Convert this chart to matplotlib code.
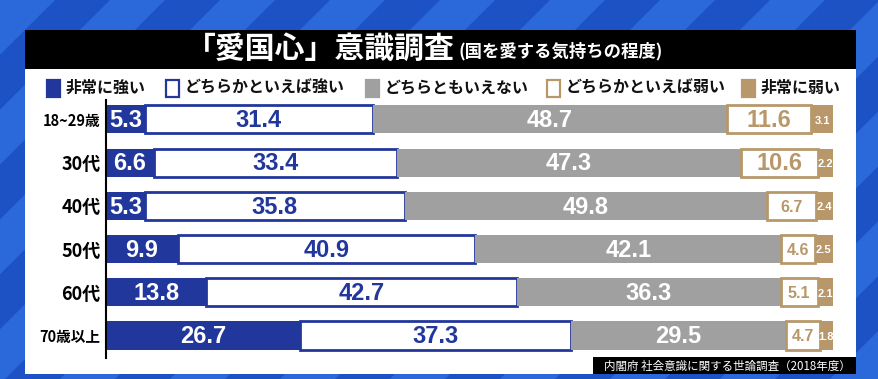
import numpy as np
import matplotlib.pyplot as plt
from matplotlib.patches import Rectangle, Polygon

plt.rcParams['font.family'] = ['Noto Sans CJK JP', 'DejaVu Sans']

# data
categories = ['18~29歳', '30代', '40代', '50代', '60代', '70歳以上']
series_names = ['非常に強い', 'どちらかといえば強い', 'どちらともいえない',
                'どちらかといえば弱い', '非常に弱い']
very_strong = [5.3, 6.6, 5.3, 9.9, 13.8, 26.7]
somewhat_strong = [31.4, 33.4, 35.8, 40.9, 42.7, 37.3]
neither = [48.7, 47.3, 49.8, 42.1, 36.3, 29.5]
somewhat_weak = [11.6, 10.6, 6.7, 4.6, 5.1, 4.7]
very_weak = [3.1, 2.2, 2.4, 2.5, 2.1, 1.8]

BLUE = '#22379c'
GRAY = '#a0a0a0'
TAN = '#b8986a'
W, H = 879, 379
NUM_FONT = ['Liberation Sans', 'DejaVu Sans']

fig = plt.figure(figsize=(W / 100, H / 100), dpi=100)
fig.patch.set_facecolor('#1d52c4')

# diagonal stripes in the background
for i in range(-4, 14):
    x0 = i * 110
    fig.patches.append(Polygon([((x0) / W, 1), ((x0 + 55) / W, 1),
                                ((x0 + 55 - 380) / W, 0), ((x0 - 380) / W, 0)],
                               closed=True, transform=fig.transFigure,
                               facecolor='#2b68da', edgecolor='none', zorder=0))

def px_rect(x0, y0, x1, y1, color, z=1):
    fig.patches.append(Rectangle((x0 / W, 1 - y1 / H), (x1 - x0) / W, (y1 - y0) / H,
                                 transform=fig.transFigure, facecolor=color,
                                 edgecolor='none', zorder=z))

# white panel and black title bar
px_rect(25, 30, 856, 374, 'white', 1)
px_rect(25, 30, 856, 69, 'black', 2)
fig.text(455 / W, 1 - 49 / H, '「愛国心」意識調査', color='white', fontsize=21.5,
         fontweight='bold', ha='right', va='center', zorder=3)
fig.text(458 / W, 1 - 51 / H, '(国を愛する気持ちの程度)', color='white', fontsize=12.5,
         fontweight='bold', ha='left', va='center', zorder=3)

# legend
legend_items = [(47, BLUE, BLUE), (166, 'white', BLUE), (366, GRAY, GRAY),
                (547, 'white', TAN), (742, TAN, TAN)]
for (lx, fc, ec), name in zip(legend_items, series_names):
    fig.patches.append(Rectangle((lx / W, 1 - 97 / H), 13 / W, 17 / H,
                                 transform=fig.transFigure, facecolor=fc,
                                 edgecolor=ec, linewidth=1.6, zorder=3))
    fig.text((lx + 19) / W, 1 - 88 / H, name, fontsize=11.5, fontweight='bold',
             ha='left', va='center', color='#111111', zorder=3)

# main chart
ax = fig.add_axes([106 / W, 1 - 358 / H, 727 / W, 258 / H])
ax.set_facecolor('none')
ax.set_zorder(4)
y = np.arange(len(categories))
styles = [
    (very_strong, BLUE, BLUE, 'white'),
    (somewhat_strong, 'white', BLUE, BLUE),
    (neither, GRAY, GRAY, 'white'),
    (somewhat_weak, 'white', TAN, TAN),
    (very_weak, TAN, TAN, 'white'),
]
left = np.zeros(len(categories))
for k, (vals, fc, ec, tc) in enumerate(styles):
    vals = np.array(vals)
    lw = 2.0 if fc == 'white' else 0
    ax.barh(y, vals, left=left, height=0.65, color=fc, edgecolor=ec,
            linewidth=lw)
    for yi, (l, v) in enumerate(zip(left, vals)):
        if v < 3.5:
            fs = 8
        elif k == 3 and v < 8:
            fs = 11.5
        else:
            fs = 17
        ax.text(l + v / 2, yi + 0.03, f'{v:.1f}', ha='center', va='center',
                color=tc, fontsize=fs, family=NUM_FONT, fontweight='bold')
    left += vals

ax.set_xlim(0, 100)
ax.set_ylim(5.52, -0.45)
ax.set_yticks(y)
ax.set_yticklabels(categories)
for lab, cat in zip(ax.get_yticklabels(), categories):
    lab.set_fontsize(10.5 if len(cat) > 3 else 13)
    lab.set_fontweight('bold')
ax.tick_params(axis='y', length=0, pad=4)
ax.set_xticks([])
for s in ['top', 'right', 'bottom']:
    ax.spines[s].set_visible(False)
ax.spines['left'].set_linewidth(1.5)

# source
px_rect(593, 357, 856, 374, 'black', 5)
fig.text(851 / W, 1 - 366 / H, '内閣府 社会意識に関する世論調査（2018年度）', color='white',
         fontsize=8.3, ha='right', va='center', zorder=6)

fig.savefig('out.png', dpi=100)
